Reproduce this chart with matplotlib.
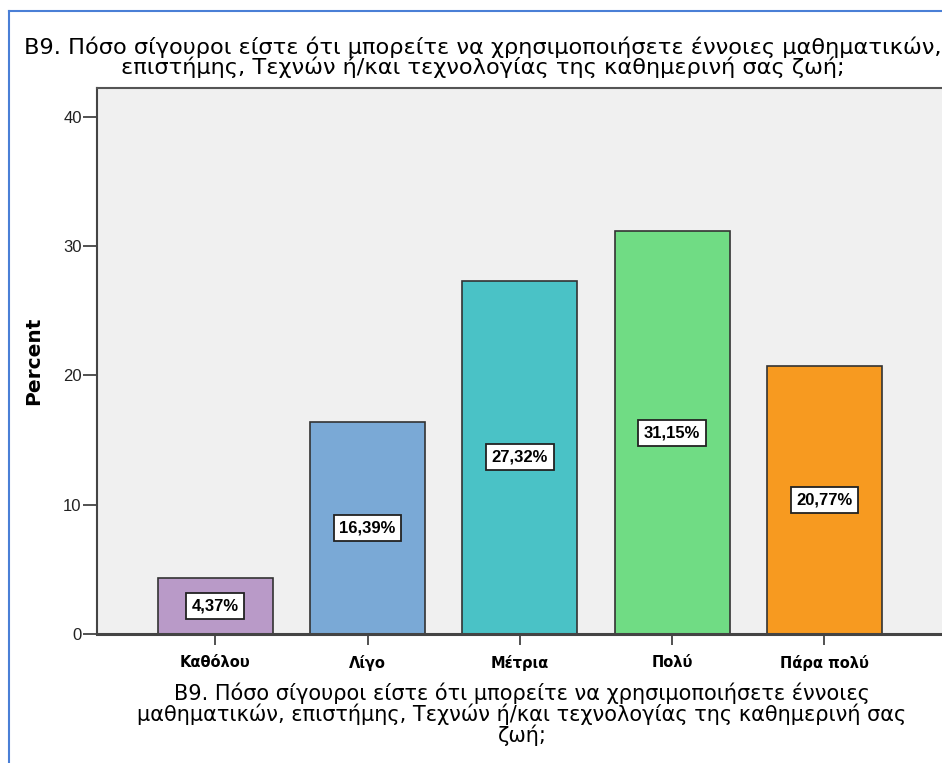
import matplotlib
matplotlib.use("Agg")
import matplotlib.pyplot as plt
from matplotlib.lines import Line2D

plt.rcParams['font.family'] = ['DejaVu Sans']

# Survey answers and their shares (%)
categories = ['Καθόλου', 'Λίγο', 'Μέτρια', 'Πολύ', 'Πάρα πολύ']
percents = [4.37, 16.39, 27.32, 31.15, 20.77]
colors = ['#b99ac8', '#7aa9d6', '#4ac2c6', '#70dc84', '#f79a20']
y_ticks = [0, 10, 20, 30, 40]

title = ('Β9. Πόσο σίγουροι είστε ότι μπορείτε να χρησιμοποιήσετε έννοιες μαθηματικών,\n'
         'επιστήμης, Τεχνών ή/και τεχνολογίας της καθημερινή σας ζωή;')
xlabel = ('Β9. Πόσο σίγουροι είστε ότι μπορείτε να χρησιμοποιήσετε έννοιες\n'
          'μαθηματικών, επιστήμης, Τεχνών ή/και τεχνολογίας της καθημερινή σας\n'
          'ζωή;')

W, H = 942, 763
fig = plt.figure(figsize=(W / 100, H / 100), dpi=100)
fig.patch.set_facecolor('white')

# plot area in pixel terms: left 97, top 88, bottom 634, runs past right edge
left, top, bottom, right = 97, 88, 634, 960
ax = fig.add_axes([left / W, 1 - bottom / H, (right - left) / W, (bottom - top) / H])
ax.set_facecolor('#f0f0f0')

x = list(range(len(categories)))
ax.bar(x, percents, width=0.755, color=colors, edgecolor='#333333', linewidth=1.2, zorder=2)

for xi, p in zip(x, percents):
    ax.text(xi, p / 2, f'{p:.2f}%'.replace('.', ','), ha='center', va='center',
            fontsize=12, fontweight='bold', family='Liberation Sans', zorder=3,
            bbox=dict(boxstyle='square,pad=0.33', facecolor='white', edgecolor='#222222', linewidth=1.3))

ax.set_xlim(-0.777, 4.89)
ax.set_ylim(0, 42.24)
ax.set_yticks(y_ticks)
ax.set_yticklabels([str(t) for t in y_ticks], fontsize=12, color='#222222', family='Liberation Sans')
ax.set_xticks(x)
ax.set_xticklabels(categories, fontsize=10.5, fontweight='bold')

ax.tick_params(axis='y', length=10, width=1.2, color='#333333', pad=1)
ax.tick_params(axis='x', length=8, width=1.2, color='#333333', pad=7)

ax.spines['right'].set_visible(False)
ax.spines['top'].set_color('#555555')
ax.spines['top'].set_linewidth(1.5)
ax.spines['left'].set_color('#444444')
ax.spines['left'].set_linewidth(1.5)
ax.spines['bottom'].set_color('#444444')
ax.spines['bottom'].set_linewidth(2.2)

ax.set_ylabel('Percent', fontsize=14.5, fontweight='bold')
ax.yaxis.set_label_coords((43 - left) / (right - left), 0.5)
ax.set_xlabel(xlabel, fontsize=15, linespacing=1.0)
ax.xaxis.set_label_coords((522 - left) / (right - left), -(682 - bottom) / (bottom - top))
ax.xaxis.label.set_verticalalignment('top')

fig.text(483 / W, 1 - 36 / H, title, ha='center', va='top', fontsize=16.2, linespacing=0.92)

# blue frame around the chart window
fig.add_artist(Line2D([8.5 / W, 8.5 / W], [0, 1 - 11 / H], color='#4a7fd6', linewidth=1.5))
fig.add_artist(Line2D([8.5 / W, 1], [1 - 11 / H, 1 - 11 / H], color='#4a7fd6', linewidth=1.5))

fig.savefig('out.png', dpi=100)
